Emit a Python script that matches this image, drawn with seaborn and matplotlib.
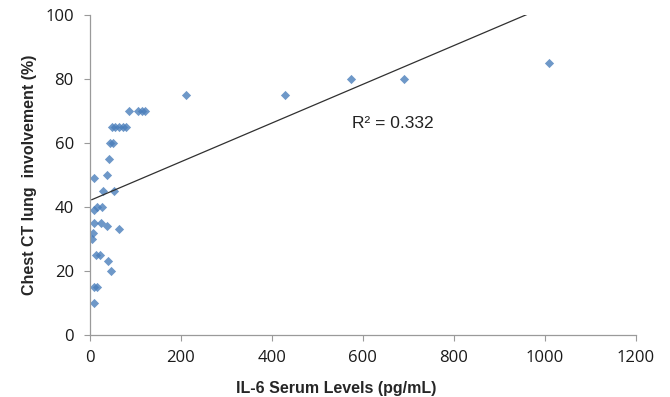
import numpy as np
import pandas as pd
import seaborn as sns
from matplotlib import pyplot as plt

# values (IL-6 pg/mL vs CT involvement %)
il6 = [4, 6, 9, 25, 38, 64, 9, 16, 27, 10, 10, 16, 14, 23, 41, 46,
       29, 54, 9, 38, 42, 44, 50, 49, 56, 64, 74, 80, 86, 106, 115, 121,
       211, 429, 574, 690, 1010]
ct = [30, 32, 35, 35, 34, 33, 39, 40, 40, 10, 15, 15, 25, 25, 23, 20,
      45, 45, 49, 50, 55, 60, 60, 65, 65, 65, 65, 65, 70, 70, 70, 70,
      75, 75, 80, 80, 85]

x_ticks = [0, 200, 400, 600, 800, 1000, 1200]
y_ticks = [0, 20, 40, 60, 80, 100]
r2_label = "R\u00b2 = 0.332"

df = pd.DataFrame({"il6": il6, "ct": ct})

sns.set_style("white")
plt.rcParams["font.family"] = ["Liberation Sans", "DejaVu Sans"]

fig = plt.figure(figsize=(6.7, 3.97), dpi=100)
ax = fig.add_axes([0.134, 0.156, 0.815, 0.806])

sns.regplot(
    data=df, x="il6", y="ct", ax=ax, ci=None, truncate=True,
    marker="D",
    scatter_kws={"s": 22, "color": "#4a7ebb", "linewidths": 0},
    line_kws={"color": "#303030", "linewidth": 0.9},
)

ax.set_xlim(0, 1200)
ax.set_ylim(0, 100)
ax.set_xticks(x_ticks)
ax.set_yticks(y_ticks)
ax.tick_params(axis="both", labelsize=12, labelcolor="#1a1a1a", length=4.5,
               width=0.8, direction="out", left=True, bottom=True,
               color="#9a9a9a")
ax.tick_params(axis="y", pad=7)
ax.tick_params(axis="x", pad=6)
for lab in ax.get_xticklabels() + ax.get_yticklabels():
    lab.set_fontfamily(["Open Sans", "DejaVu Sans"])

for s in ["top", "right"]:
    ax.spines[s].set_visible(False)
for s in ["left", "bottom"]:
    ax.spines[s].set_color("#9a9a9a")
    ax.spines[s].set_linewidth(0.9)

ax.text(576, 66, r2_label, fontsize=12.5, color="#222222", va="center")

ax.set_xlabel("IL-6 Serum Levels (pg/mL)", fontsize=11.5, fontweight="bold")
ax.xaxis.set_label_coords(0.452, -0.145)
ax.set_ylabel("Chest CT lung  involvement (%)", fontsize=11.5,
              fontweight="bold")
ax.yaxis.set_label_coords(-0.097, 0.5)

fig.savefig("out.png", dpi=100)
